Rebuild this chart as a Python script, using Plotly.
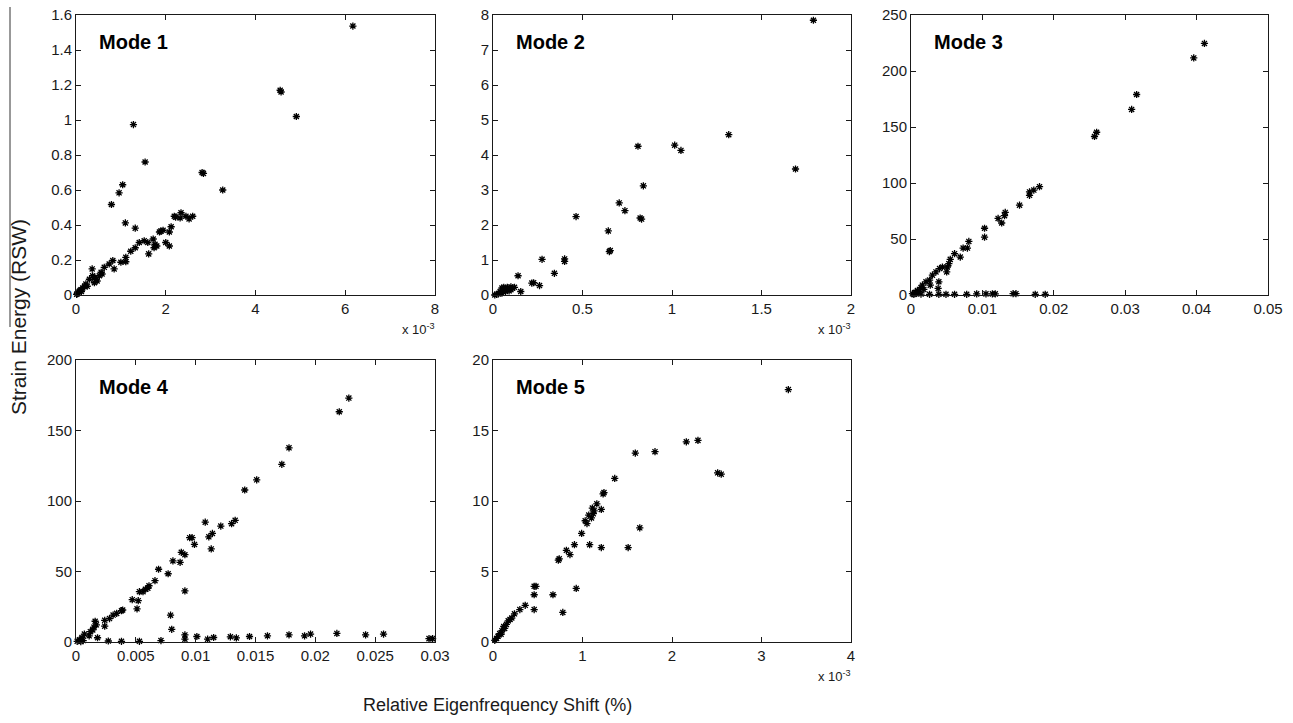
import plotly.graph_objects as go

W, H = 1293, 723

# ---------------- data ----------------
# Mode 1 : x in units of 1e-3 %
mode1_x = [6.17, 4.55, 4.57, 4.91, 1.28, 1.54, 1.04, 0.96, 0.79, 1.10, 1.32, 2.81, 2.84, 3.27,
           2.19, 2.22, 2.32, 2.34, 2.45, 2.52, 2.60, 2.12, 2.08, 1.86, 1.89, 1.94, 2.00, 2.08,
           1.72, 1.76, 1.74, 1.80, 1.62, 1.60, 1.52, 1.41, 1.32, 1.22, 1.11, 1.11, 1.00, 0.82,
           0.85, 0.74, 0.63, 0.56, 0.52, 0.45, 0.41, 0.36, 0.37, 0.30, 0.22, 0.19, 0.15, 0.11,
           0.07, 0.04, 0.015, 0.47, 0.58, 0.25, 0.12, 0.09, 0.03, 0.42]
mode1_y = [1.537, 1.17, 1.16, 1.02, 0.974, 0.76, 0.63, 0.584, 0.517, 0.412, 0.382, 0.70, 0.695, 0.60,
           0.45, 0.445, 0.44, 0.47, 0.45, 0.435, 0.45, 0.39, 0.36, 0.36, 0.365, 0.37, 0.30, 0.28,
           0.32, 0.29, 0.27, 0.28, 0.235, 0.30, 0.31, 0.30, 0.27, 0.25, 0.215, 0.19, 0.187, 0.197,
           0.149, 0.177, 0.158, 0.13, 0.11, 0.09, 0.07, 0.149, 0.11, 0.09, 0.063, 0.05, 0.04, 0.03,
           0.02, 0.01, 0.004, 0.08, 0.12, 0.05, 0.02, 0.025, 0.008, 0.10]

# Mode 2 : x in units of 1e-3 %
mode2_x = [1.79, 1.317, 1.69, 1.015, 1.05, 0.81, 0.84, 0.705, 0.737, 0.822, 0.83, 0.464, 0.644,
           0.65, 0.655, 0.40, 0.40, 0.274, 0.343, 0.14, 0.217, 0.227, 0.26, 0.155, 0.05, 0.06,
           0.07, 0.08, 0.10, 0.11, 0.12, 0.04, 0.05, 0.03, 0.06, 0.09, 0.02, 0.01, 0.07, 0.10]
mode2_y = [7.85, 4.58, 3.60, 4.28, 4.13, 4.25, 3.12, 2.63, 2.41, 2.20, 2.17, 2.24, 1.83,
           1.24, 1.27, 1.03, 0.96, 1.02, 0.62, 0.55, 0.34, 0.35, 0.27, 0.10, 0.20, 0.22,
           0.18, 0.22, 0.23, 0.20, 0.22, 0.10, 0.05, 0.03, 0.15, 0.12, 0.02, 0.0, 0.10, 0.15]

# Mode 3
mode3_x = [0.0411, 0.0396, 0.0316, 0.0309, 0.0260, 0.0257, 0.0180, 0.0172, 0.0166, 0.0166,
           0.0152, 0.0132, 0.0131, 0.0127, 0.0122, 0.0103, 0.0103, 0.0081, 0.0079, 0.0073,
           0.0069, 0.0061, 0.0055, 0.0053, 0.0051, 0.0050, 0.0044, 0.0040, 0.0035, 0.0039,
           0.0030, 0.0026, 0.0021, 0.0016, 0.0014, 0.0009, 0.0006, 0.0002, 0.0027, 0.0038,
           0.0014, 0.0026, 0.0039, 0.0049, 0.0061, 0.0078, 0.0092, 0.0105, 0.0114, 0.0118,
           0.0143, 0.0147, 0.0174, 0.0188, 0.0011, 0.0008, 0.0018, 0.0004]
mode3_y = [224.6, 211.7, 179.0, 165.7, 145.3, 141.5, 96.7, 93.7, 92.0, 89.0,
           80.2, 73.7, 70.8, 64.3, 68.4, 59.6, 51.6, 47.8, 41.9, 41.9,
           33.9, 36.9, 31.8, 28.0, 25.0, 20.6, 25.0, 23.6, 20.6, 11.8,
           17.7, 13.3, 11.8, 8.8, 6.5, 4.1, 2.4, 1.2, 8.8, 5.9,
           0.8, 0.6, 0.6, 0.6, 0.6, 0.6, 1.0, 1.0, 1.0, 1.0,
           1.2, 1.2, 0.6, 0.6, 3.0, 1.5, 5.0, 0.5]

# Mode 4
mode4_x = [0.0228, 0.0220, 0.0178, 0.0172, 0.0151, 0.0141, 0.0133, 0.0130, 0.0121, 0.0114,
           0.0111, 0.0113, 0.0108, 0.0099, 0.0095, 0.0097, 0.0091, 0.0088, 0.0087, 0.0081,
           0.0091, 0.0077, 0.0069, 0.0066, 0.0061, 0.0060, 0.0058, 0.0056, 0.0053, 0.0052,
           0.0051, 0.0047, 0.0039, 0.0038, 0.0034, 0.0031, 0.0028, 0.0024, 0.0024, 0.0016,
           0.0017, 0.0015, 0.0014, 0.0012, 0.0011, 0.0007, 0.0005, 0.0003, 0.0001,
           0.0079, 0.0080, 0.0091, 0.0091, 0.0101, 0.0110, 0.0115, 0.0129, 0.0134, 0.0145,
           0.0160, 0.0178, 0.0191, 0.0196, 0.0218, 0.0242, 0.0257, 0.0298, 0.0295,
           0.0018, 0.0027, 0.0038, 0.0053, 0.0071, 0.0006, 0.0004]
mode4_y = [173.0, 163.3, 137.7, 126.0, 115.0, 107.8, 86.3, 83.9, 82.2, 77.0,
           74.6, 66.0, 85.0, 69.2, 74.0, 74.0, 61.9, 63.6, 56.5, 57.5,
           36.2, 48.4, 51.6, 43.5, 39.9, 38.1, 37.4, 35.7, 35.7, 29.3,
           23.5, 30.0, 22.7, 22.2, 20.3, 19.1, 16.6, 15.4, 11.2, 14.7,
           12.2, 10.5, 8.6, 7.3, 4.4, 5.6, 3.2, 1.5, 0.5,
           19.0, 9.0, 5.0, 2.0, 3.9, 2.0, 3.2, 3.7, 2.9, 3.9,
           4.4, 5.1, 4.4, 5.6, 6.1, 5.1, 5.6, 2.4, 2.4,
           3.0, 0.7, 0.5, 0.5, 1.0, 1.0, 0.3]

# Mode 5 : x in units of 1e-3 %
mode5_x = [3.30, 2.29, 2.16, 1.81, 1.59, 2.51, 2.55, 1.36, 1.23, 1.24, 1.16, 1.21, 1.13, 1.11,
           1.07, 1.03, 1.05, 1.64, 0.99, 0.91, 1.08, 1.21, 1.51, 0.86, 0.82, 0.73, 0.74, 0.48,
           0.46, 0.46, 0.67, 0.93, 0.78, 0.46, 0.36, 0.30, 0.24, 0.21, 0.17, 0.15, 0.12, 0.10,
           0.075, 0.056, 0.04, 0.02, 0.19, 0.13, 0.09, 1.12, 1.10]
mode5_y = [17.9, 14.3, 14.2, 13.5, 13.4, 12.0, 11.9, 11.6, 10.5, 10.6, 9.8, 9.4, 9.3, 9.5,
           9.0, 8.6, 8.4, 8.1, 7.7, 6.9, 6.9, 6.7, 6.7, 6.2, 6.5, 5.8, 5.9, 3.95,
           3.95, 3.35, 3.35, 3.8, 2.1, 2.3, 2.6, 2.3, 2.0, 1.7, 1.5, 1.25, 1.1, 0.8,
           0.6, 0.4, 0.25, 0.12, 1.6, 0.96, 0.55, 9.1, 8.8]

# tick labels
ticks = {
    1: dict(xv=[0, 2, 4, 6, 8], xt=["0", "2", "4", "6", "8"],
            yv=[0, 0.2, 0.4, 0.6, 0.8, 1, 1.2, 1.4, 1.6],
            yt=["0", "0.2", "0.4", "0.6", "0.8", "1", "1.2", "1.4", "1.6"]),
    2: dict(xv=[0, 0.5, 1, 1.5, 2], xt=["0", "0.5", "1", "1.5", "2"],
            yv=[0, 1, 2, 3, 4, 5, 6, 7, 8], yt=["0", "1", "2", "3", "4", "5", "6", "7", "8"]),
    3: dict(xv=[0, 0.01, 0.02, 0.03, 0.04, 0.05], xt=["0", "0.01", "0.02", "0.03", "0.04", "0.05"],
            yv=[0, 50, 100, 150, 200, 250], yt=["0", "50", "100", "150", "200", "250"]),
    4: dict(xv=[0, 0.005, 0.01, 0.015, 0.02, 0.025, 0.03],
            xt=["0", "0.005", "0.01", "0.015", "0.02", "0.025", "0.03"],
            yv=[0, 50, 100, 150, 200], yt=["0", "50", "100", "150", "200"]),
    5: dict(xv=[0, 1, 2, 3, 4], xt=["0", "1", "2", "3", "4"],
            yv=[0, 5, 10, 15, 20], yt=["0", "5", "10", "15", "20"]),
}
ranges = {1: ([0, 8], [0, 1.6]), 2: ([0, 2], [0, 8]), 3: ([0, 0.05], [0, 250]),
          4: ([0, 0.03], [0, 200]), 5: ([0, 4], [0, 20])}
mode_names = ["Mode 1", "Mode 2", "Mode 3", "Mode 4", "Mode 5"]
series = [(mode1_x, mode1_y), (mode2_x, mode2_y), (mode3_x, mode3_y),
          (mode4_x, mode4_y), (mode5_x, mode5_y)]
scaled = [True, True, False, False, True]

# ---------------- layout geometry (screen pixels) ----------------
cols = [(76, 435), (493, 851), (911, 1268)]
rows = [(15, 295), (360, 642)]
cells = [(0, 0), (0, 1), (0, 2), (1, 0), (1, 1)]
OFF = 0  # body margin removed by post_script below

def px(x):
    return (x - OFF) / W

def py(y):
    return 1 - (y - OFF) / H

FONT = "Liberation Sans, Arial, Helvetica, sans-serif"
INK = "#1a1a1a"

fig = go.Figure()
layout = dict(width=W, height=H, margin=dict(l=0, r=0, t=0, b=0),
              paper_bgcolor="white", plot_bgcolor="white", showlegend=False,
              font=dict(family=FONT, size=15, color=INK), template="none",
              hovermode=False)
annotations = []
for i, ((r, c), (xs, ys)) in enumerate(zip(cells, series)):
    k = i + 1
    xa = "xaxis" if k == 1 else f"xaxis{k}"
    ya = "yaxis" if k == 1 else f"yaxis{k}"
    x0, x1 = cols[c]
    y0, y1 = rows[r]
    t = ticks[k]
    common = dict(showgrid=False, zeroline=False, showline=True, linecolor=INK, linewidth=1,
                  mirror="ticks", ticks="inside", ticklen=5, tickwidth=1, tickcolor=INK,
                  automargin=False, ticklabeloverflow="allow",
                  tickfont=dict(family=FONT, size=15, color=INK))
    layout[xa] = dict(domain=[px(x0), px(x1)], range=ranges[k][0], tickvals=t["xv"],
                      ticktext=t["xt"], anchor=f"y{'' if k == 1 else k}", **common)
    layout[ya] = dict(domain=[py(y1), py(y0)], range=ranges[k][1], tickvals=t["yv"],
                      ticktext=t["yt"], anchor=f"x{'' if k == 1 else k}", **common)
    fig.add_trace(go.Scatter(x=xs, y=ys, mode="markers", xaxis=f"x{'' if k == 1 else k}",
                             yaxis=f"y{'' if k == 1 else k}",
                             marker=dict(symbol="asterisk-open", size=6, color="black",
                                         line=dict(color="black", width=1.3)),
                             cliponaxis=False))
    annotations.append(dict(text=f"<b>{mode_names[i]}</b>", x=px(x0 + 21), y=py(y0 + 27),
                            xref="paper", yref="paper", xanchor="left", yanchor="middle",
                            showarrow=False, font=dict(family=FONT, size=20, color="black")))
    if scaled[i]:
        annotations.append(dict(text="x 10<sup>-3</sup>", x=px(x1 + 2), y=py(y1 + 34),
                                xref="paper", yref="paper", xanchor="right", yanchor="middle",
                                showarrow=False, font=dict(family=FONT, size=13, color=INK)))

annotations.append(dict(text="Strain Energy (RSW)", x=px(18), y=py(317), xref="paper",
                        yref="paper", textangle=-90, showarrow=False, xanchor="center",
                        yanchor="middle", font=dict(family=FONT, size=21, color=INK)))
annotations.append(dict(text="Relative Eigenfrequency Shift (%)", x=px(497), y=py(705),
                        xref="paper", yref="paper", showarrow=False, xanchor="center",
                        yanchor="middle", font=dict(family=FONT, size=18, color=INK)))
layout["annotations"] = annotations
layout["shapes"] = [dict(type="line", xref="paper", yref="paper", x0=px(10), x1=px(10),
                         y0=py(7), y1=py(327), line=dict(color="#333333", width=1))]
fig.update_layout(**layout)
fig.write_html("out.html", config={"displayModeBar": False, "staticPlot": True},
               post_script="document.body.style.margin='0px';document.body.style.overflow='hidden';")
